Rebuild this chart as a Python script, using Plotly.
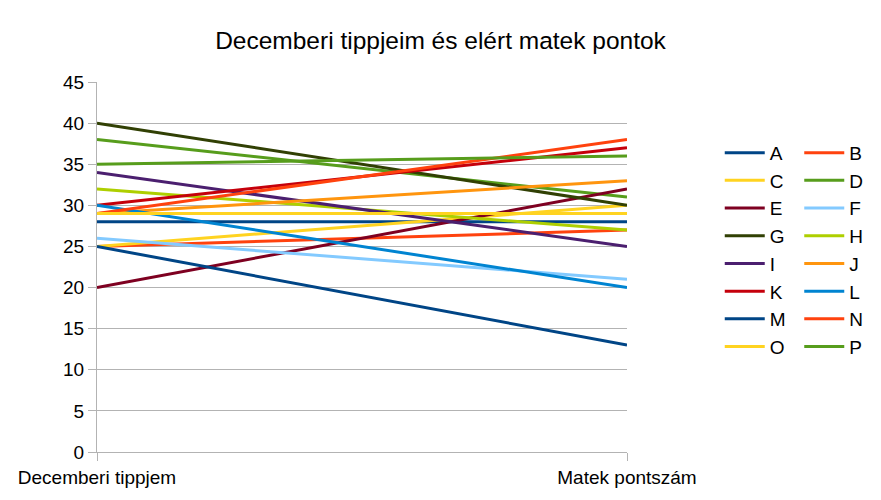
import plotly.graph_objects as go

categories = ["Decemberi tippjem", "Matek pontszám"]
names = ["A", "B", "C", "D", "E", "F", "G", "H", "I", "J", "K", "L", "M", "N", "O", "P"]
tipp = [28, 25, 25, 38, 20, 26, 40, 32, 34, 29, 30, 30, 25, 29, 29, 35]
pont = [28, 27, 30, 31, 32, 21, 30, 27, 25, 33, 37, 20, 13, 38, 29, 36]
colors = ["#004586", "#ff420e", "#ffd320", "#579d1c", "#7e0021", "#83caff", "#314004", "#aecf00",
          "#4b1f6f", "#ff950e", "#c5000b", "#0084d1", "#004586", "#ff420e", "#ffd320", "#579d1c"]
y_ticks = list(range(0, 50, 5))

fig = go.Figure()
for i, n in enumerate(names):
    fig.add_trace(go.Scatter(
        x=[0, 1], y=[tipp[i], pont[i]], mode="lines", name=n,
        line=dict(color=colors[i], width=3),
        legend="legend" if i % 2 == 0 else "legend2",
        legendgroup=n,
    ))

FAM = "Liberation Sans, Arial, sans-serif"
font = dict(family=FAM, size=19, color="#000000")
leg_common = dict(font=font, bgcolor="rgba(0,0,0,0)", tracegroupgap=0,
                  xanchor="left", yanchor="top", itemwidth=40)
fig.update_layout(
    width=881, height=500,
    margin=dict(l=97, r=254, t=82, b=48),
    paper_bgcolor="white", plot_bgcolor="white",
    font=font,
    title=dict(text="Decemberi tippjeim és elért matek pontok", x=0.5, xref="container",
               xanchor="center", y=1 - 40 / 500, yref="container", yanchor="middle",
               font=dict(family=FAM, size=24.5, color="#000000")),
    xaxis=dict(range=[0, 1], tickvals=[0, 1], ticktext=categories, showgrid=True,
               gridcolor="#b3b3b3", gridwidth=1, zeroline=False, showline=True,
               linecolor="#b3b3b3", ticks="outside", ticklen=8, tickcolor="#b3b3b3",
               tickfont=font),
    yaxis=dict(range=[0, 45], tickvals=y_ticks, showgrid=True, gridcolor="#b3b3b3",
               gridwidth=1, zeroline=False, showline=True, linecolor="#b3b3b3",
               ticks="outside", ticklen=8, tickcolor="#b3b3b3", tickfont=font),
    showlegend=True,
    legend=dict(x=1.175, y=0.86, **leg_common),
    legend2=dict(x=1.325, y=0.86, **leg_common),
)
fig.write_html("out.html", config={"displayModeBar": False},
               post_script="document.body.style.margin='0';document.body.style.overflow='hidden';")
